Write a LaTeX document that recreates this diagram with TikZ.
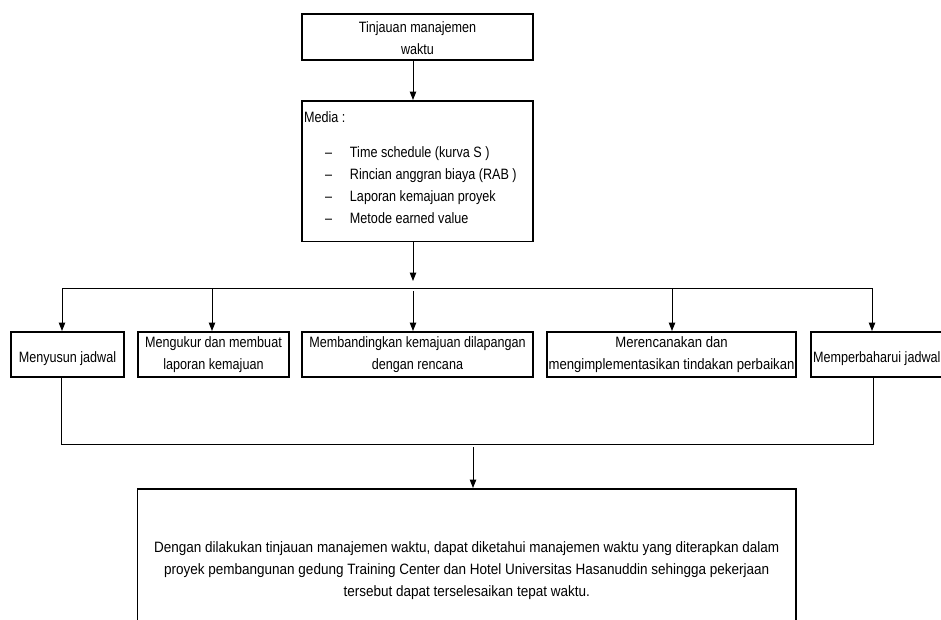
\documentclass[tikz,border=0pt]{standalone}
\usepackage{fontspec}
\setmainfont{Liberation Sans}[FakeStretch=0.84]
\newfontfamily\widefont{Liberation Sans}[FakeStretch=0.9]
\newfontfamily\midfont{Liberation Sans}[FakeStretch=0.875]
\usetikzlibrary{arrows.meta}
\newcommand{\boxtext}[2]{\raisebox{#1}[0pt][0pt]{\begin{tabular}[t]{@{}c@{}}#2\end{tabular}}}
\newcommand{\mitem}[1]{\hspace*{21pt}\makebox[25pt][l]{\textendash}#1}
\tikzset{
  flowbox/.style={draw=black, line width=1.8pt, inner sep=0pt, outer sep=0pt},
  conn/.style={draw=black, line width=1pt},
  arr/.style={conn, -{Triangle[width=6.5pt,length=8.5pt]}, shorten >=1pt}
}
\begin{document}
\begin{tikzpicture}[x=1pt,y=-1pt,font=\fontsize{15}{22}\selectfont]
\useasboundingbox (0,0) rectangle (941,619);
\clip (0,0) rectangle (941,619);
\fill[white] (0,0) rectangle (941,619);

% top boxes
\node[flowbox, minimum width=231pt, minimum height=46pt] (top) at (417.5,37)
  {\boxtext{5pt}{Tinjauan manajemen\\waktu}};
\node[flowbox, minimum width=231pt, minimum height=140.5pt] (media) at (417.5,171.25)
  {\makebox[227pt][l]{\raisebox{49.25pt}[0pt][0pt]{\begin{tabular}[t]{@{}l@{}}Media :\\[13pt]
    \mitem{Time schedule (kurva S )}\\
    \mitem{Rincian anggran biaya (RAB )}\\
    \mitem{Laporan kemajuan proyek}\\
    \mitem{Metode earned value}\end{tabular}}}};

% row of boxes
\node[flowbox, minimum width=113pt, minimum height=45pt] (b1) at (67.5,354.5)
  {\boxtext{-7.5pt}{Menyusun jadwal}};
\node[flowbox, minimum width=151pt, minimum height=45pt] (b2) at (213.5,354.5)
  {\boxtext{7pt}{Mengukur dan membuat\\laporan kemajuan}};
\node[flowbox, minimum width=231pt, minimum height=45pt] (b3) at (417.5,354.5)
  {\boxtext{7pt}{Membandingkan kemajuan dilapangan\\dengan rencana}};
\node[flowbox, minimum width=249pt, minimum height=45pt] (b4) at (671.5,354.5)
  {\midfont\boxtext{7pt}{Merencanakan dan\\mengimplementasikan tindakan perbaikan}};
\node[flowbox, minimum height=45pt, inner xsep=2pt, anchor=west] (b5) at (811,354.5)
  {\raisebox{-7.5pt}[0pt][0pt]{\makebox[145pt][l]{Memperbaharui jadwal}}};

% bottom box
\node[flowbox, minimum width=658.5pt, minimum height=151pt] (bot) at (466.75,564.5)
  {\widefont\boxtext{12pt}{Dengan dilakukan tinjauan manajemen waktu, dapat diketahui manajemen waktu yang diterapkan dalam\\
   proyek pembangunan gedung Training Center dan Hotel Universitas Hasanuddin sehingga pekerjaan\\
   tersebut dapat terselesaikan tepat waktu.}};

% connector points
\coordinate (ca) at (413,0);
\coordinate (cm) at (413,282);
\coordinate (hl) at (62,288);
\coordinate (h2) at (212,288);
\coordinate (h3) at (413,291);
\coordinate (h4) at (672,288);
\coordinate (hr) at (872,288);
\coordinate (ll) at (61,444);
\coordinate (lr) at (873,444);
\coordinate (lb) at (473,447);

% connectors
\draw[arr] (top.south -| ca) -- (media.north -| ca);
\draw[arr] (media.south -| cm) -- (cm);
\draw[conn] (hl) -- (hr);
\draw[arr] (hl) -- (b1.north -| hl);
\draw[arr] (h2) -- (b2.north -| h2);
\draw[arr] (h3) -- (b3.north -| h3);
\draw[arr] (h4) -- (b4.north -| h4);
\draw[arr] (hr) -- (b5.north -| hr);
\draw[conn] (b1.south -| ll) -- (ll) -- (lr) -- (b5.south -| lr);
\draw[arr] (lb) -- (bot.north -| lb);
\end{tikzpicture}
\end{document}
